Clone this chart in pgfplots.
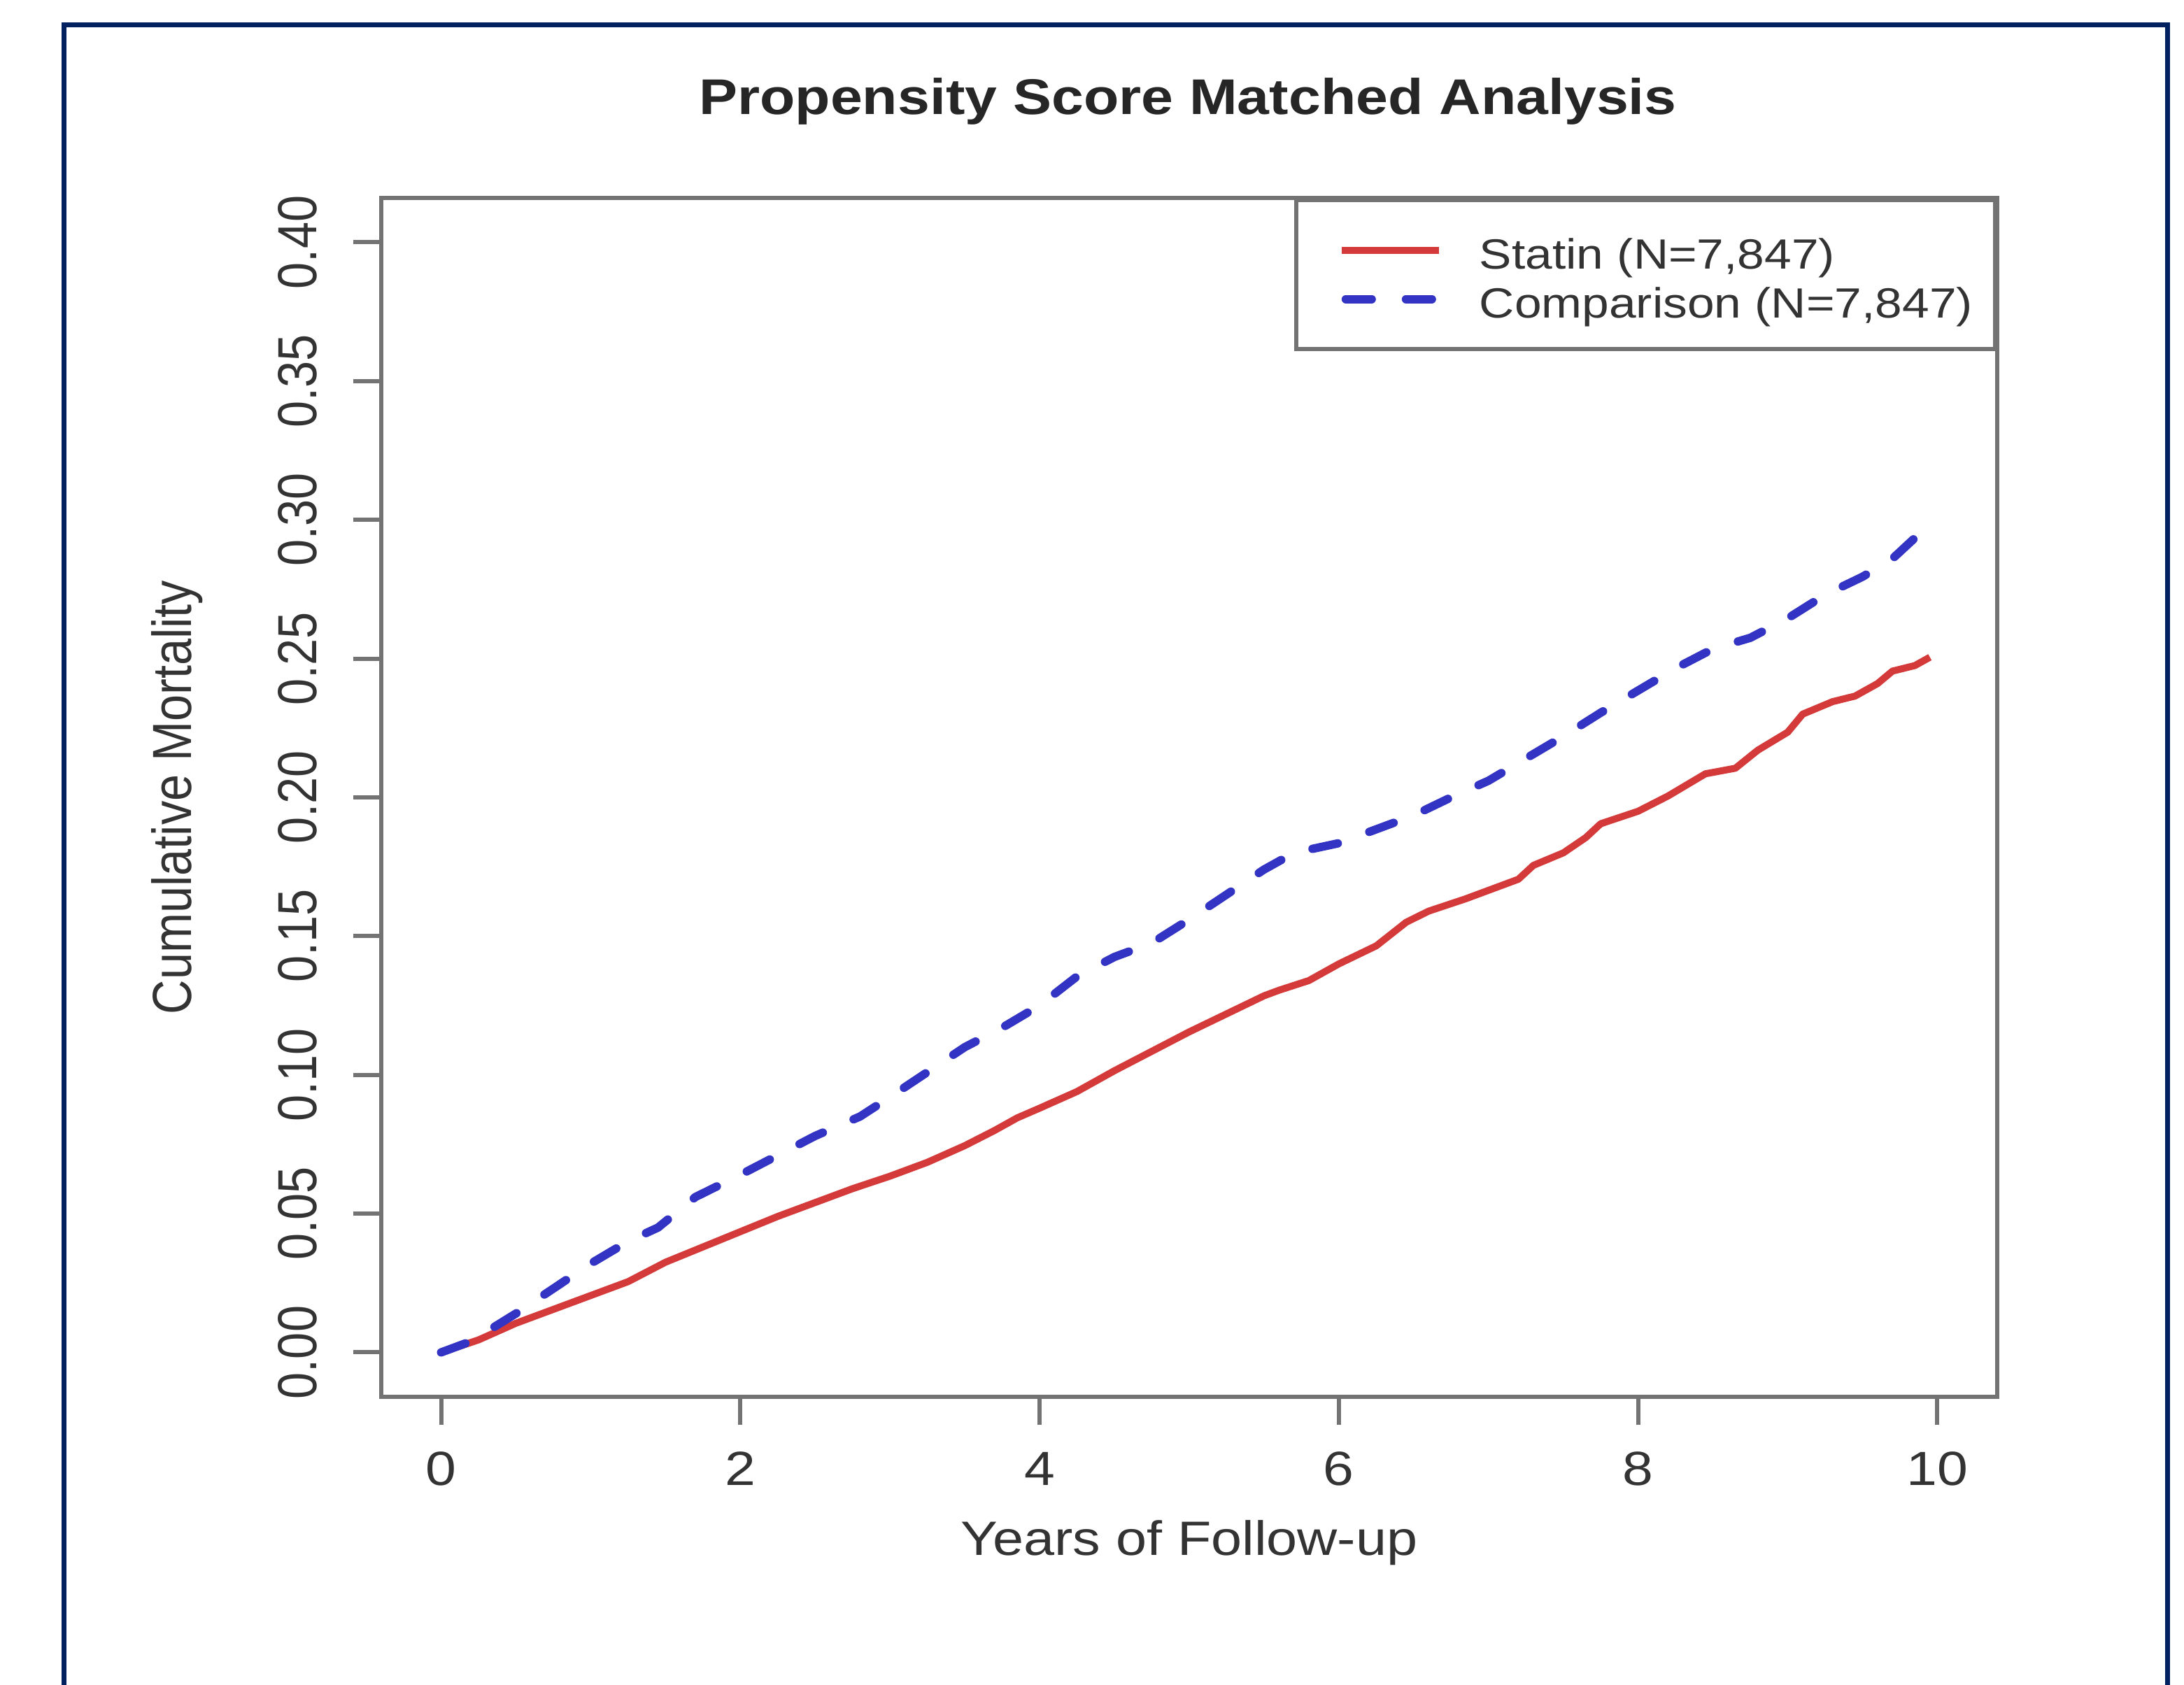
\documentclass[border=0pt]{standalone}
\usepackage{fontspec}
\setmainfont{Liberation Sans}
\newfontfamily\hfont[FakeStretch=1.15]{Liberation Sans}
\newfontfamily\vfont[FakeStretch=0.87]{Liberation Sans}
\usepackage{pgfplots}
\pgfplotsset{compat=1.18}
\definecolor{axgray}{RGB}{115,115,115}
\definecolor{kmred}{RGB}{212,58,58}
\definecolor{kmblue}{RGB}{52,52,196}
\definecolor{framenavy}{RGB}{0,32,96}
\pgfplotstableread{
t v
0 0
0.25 0.0045
0.5 0.0105
0.75 0.0155
1.0 0.0205
1.25 0.0255
1.5 0.0325
1.75 0.038
2.0 0.0435
2.25 0.049
2.5 0.054
2.75 0.059
3.0 0.0635
3.25 0.0685
3.5 0.0745
3.7 0.080
3.85 0.0845
4.0 0.088
4.25 0.094
4.5 0.1015
4.75 0.1085
5.0 0.1155
5.25 0.122
5.5 0.1285
5.6 0.1305
5.8 0.134
6.0 0.140
6.25 0.1465
6.45 0.155
6.6 0.159
6.85 0.1635
7.0 0.1665
7.2 0.1705
7.3 0.1755
7.5 0.180
7.65 0.1855
7.75 0.1905
8.0 0.195
8.2 0.2005
8.45 0.2085
8.65 0.2105
8.8 0.217
9.0 0.2235
9.1 0.230
9.3 0.2345
9.45 0.2365
9.6 0.241
9.7 0.2455
9.85 0.2475
9.95 0.2505
}\statin
\pgfplotstableread{
t v
0 0
0.2 0.004
0.5 0.014
0.75 0.023
1.0 0.032
1.25 0.040
1.45 0.045
1.7 0.056
2.0 0.064
2.25 0.071
2.5 0.078
2.8 0.085
3.0 0.092
3.25 0.101
3.5 0.110
3.75 0.117
4.0 0.125
4.25 0.1355
4.5 0.1425
4.75 0.1475
5.0 0.156
5.25 0.165
5.5 0.174
5.7 0.180
6.0 0.1835
6.25 0.1885
6.5 0.1935
6.75 0.200
7.0 0.206
7.25 0.214
7.5 0.222
7.75 0.2305
8.0 0.2385
8.25 0.2465
8.5 0.2535
8.75 0.2575
9.0 0.2645
9.25 0.273
9.5 0.2795
9.7 0.286
9.9 0.296
}\comparison
\begin{document}
\begin{tikzpicture}
\useasboundingbox (0,0) rectangle (156.1mm,120.45mm);
\fill[white] (0,0) rectangle (156.1mm,120.45mm);
\draw[framenavy, line width=0.35mm] (4.55mm,-2mm) -- (4.55mm,118.65mm) -- (154.9mm,118.65mm) -- (154.9mm,-2mm);
\begin{axis}[
  at={(27.25mm,20.6mm)}, anchor=south west,
  scale only axis, width=115.5mm, height=85.7mm,
  xmin=-0.4, xmax=10.4, ymin=-0.016, ymax=0.416,
  axis line style={axgray, line width=0.3mm},
  tick style={axgray, line width=0.3mm},
  tick align=outside, major tick length=2mm,
  xtick pos=bottom, ytick pos=left,
  xtick={0,2,4,6,8,10}, xticklabels={0,2,4,6,8,10},
  ytick={0,0.05,0.10,0.15,0.20,0.25,0.30,0.35,0.40},
  yticklabels={0.00,0.05,0.10,0.15,0.20,0.25,0.30,0.35,0.40},
  xticklabel style={font=\hfont\fontsize{9.75}{11}\selectfont, text=black!80, anchor=center, yshift=-3.15mm},
  yticklabel style={font=\vfont\fontsize{11.2}{13}\selectfont, text=black!80, xshift=-4.0mm, anchor=center, rotate=90},
  xlabel={Years of Follow-up},
  ylabel={Cumulative Mortality},
  xlabel style={font=\hfont\fontsize{9.8}{12}\selectfont, text=black!80, at={(axis description cs:0.5,-0.122)}, anchor=center},
  ylabel style={font=\vfont\fontsize{11.2}{13}\selectfont, text=black!80, at={(axis description cs:-0.1264,0.5)}, anchor=center, rotate=0},
  legend cell align=left,
  legend style={at={(1,1)}, anchor=north east, draw=axgray, line width=0.3mm,
    inner xsep=1.6mm, inner ysep=1.83mm, /tikz/row sep=0pt, /tikz/column sep=2.65mm,
    font=\hfont\fontsize{8.6}{10}\selectfont, text=black!80,
    nodes={inner sep=0pt, text height=3.1mm, text depth=0.4mm}},
]
\addplot[kmred, line width=0.5mm, line join=round,
  legend image code/.code={\path (-1.35mm,0mm); \draw[kmred, line width=0.5mm] (0mm,0mm) -- (6.95mm,0mm);}]
  table[x=t, y=v] {\statin};
\addlegendentry{Statin (N=7,847)}
\addplot[kmblue, line width=0.6mm, line cap=round, dash pattern=on 1.85mm off 2.4mm,
  legend image code/.code={\path (-1.35mm,0mm); \draw[kmblue, line width=0.6mm, line cap=round] (0.3mm,0mm) -- (2.5mm,0mm) (4.6mm,0mm) -- (6.7mm,0mm);}]
  table[x=t, y=v] {\comparison};
\addlegendentry{Comparison (N=7,847)}
\end{axis}
\node[font=\hfont\bfseries\fontsize{10.2}{12}\selectfont, text=black!85, anchor=center] at (84.9mm,113.2mm) {Propensity Score Matched Analysis};
\end{tikzpicture}
\end{document}
